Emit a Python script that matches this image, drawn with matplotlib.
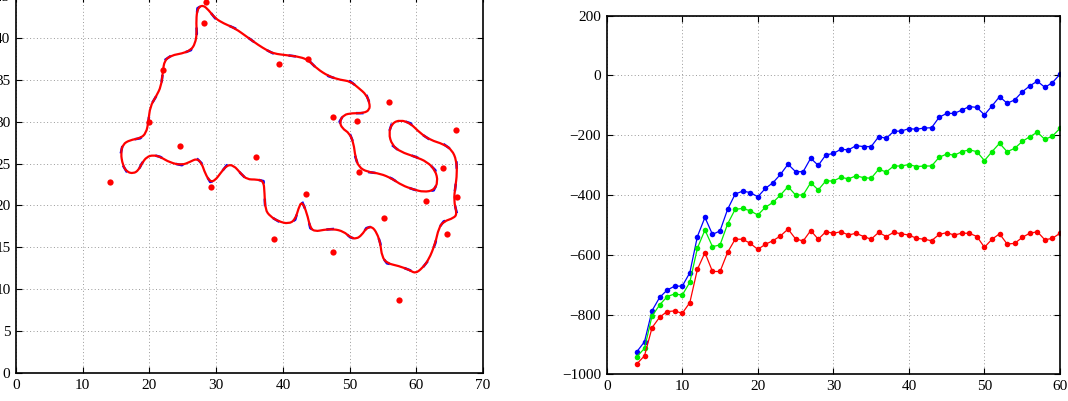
import numpy as np
import matplotlib
matplotlib.use("Agg")
import matplotlib.pyplot as plt
from matplotlib.path import Path
from matplotlib.patches import PathPatch

plt.rcParams['font.family'] = ['Liberation Serif', 'DejaVu Serif']
plt.rcParams['font.size'] = 11

# left panel: traced boundary (closed) and measured points
curve_x = [15.7, 16.0, 17.1, 18.6, 19.5, 19.85, 20.1, 21.0, 21.75, 22.0, 22.25, 23.35, 24.85, 26.2,
           26.85, 27.1, 27.0, 27.2, 28.0, 28.85, 29.85, 31.1, 32.85, 34.6, 36.35, 37.6, 38.6, 40.6,
           42.6, 43.85, 45.1, 46.85, 48.6, 50.1, 51.35, 52.5, 53.0, 53.0, 52.1, 50.35, 49.1, 48.5,
           48.85, 50.0, 50.6, 50.85, 51.35, 52.6, 54.6, 56.35, 57.85, 59.6, 61.1, 62.6, 63.25, 62.85,
           61.6, 59.85, 57.6, 56.35, 55.85, 56.35, 57.6, 59.1, 60.6, 62.1, 64.1, 65.35, 66.0, 66.1,
           65.85, 65.6, 66.1, 65.6, 64.1, 63.35, 62.85, 61.85, 60.85, 59.85, 59.0, 57.35, 55.6, 54.85,
           54.6, 54.1, 53.35, 52.5, 51.85, 51.0, 50.1, 49.1, 47.6, 46.1, 44.85, 44.1, 43.6, 42.85,
           42.35, 41.85, 40.85, 39.35, 38.1, 37.35, 37.25, 37.1, 36.1, 34.6, 33.7, 32.6, 31.6, 30.6,
           29.85, 29.1, 28.35, 27.85, 27.1, 26.1, 24.85, 23.1, 21.6, 20.6, 19.6, 18.85, 18.35, 17.6,
           16.6, 16.0]
curve_y = [26.2, 27.3, 27.8, 28.0, 28.6, 30.0, 31.8, 33.0, 34.2, 35.9, 37.3, 37.9, 38.1, 38.5,
           39.3, 40.5, 42.1, 43.5, 43.9, 43.3, 42.3, 41.7, 41.1, 40.1, 39.1, 38.5, 38.1, 37.9,
           37.7, 37.3, 36.3, 35.4, 34.96, 34.8, 34.0, 33.2, 32.2, 31.4, 31.0, 31.0, 30.8, 30.0,
           29.2, 28.6, 27.4, 25.8, 24.6, 24.0, 23.8, 23.2, 22.4, 21.9, 21.6, 21.8, 22.8, 24.2,
           25.2, 25.8, 26.4, 27.2, 28.6, 29.8, 30.2, 29.8, 28.6, 27.8, 27.3, 26.6, 25.4, 23.8,
           22.2, 20.6, 19.0, 18.5, 18.1, 17.3, 15.5, 13.5, 12.5, 11.9, 12.3, 12.8, 13.1, 13.9,
           15.5, 16.7, 17.5, 17.3, 16.5, 16.0, 16.2, 16.9, 17.2, 17.1, 16.9, 17.3, 19.1, 20.5,
           19.7, 18.3, 17.8, 18.1, 18.7, 19.5, 21.5, 22.9, 23.1, 23.1, 23.8, 24.8, 24.8, 23.8,
           23.0, 22.8, 23.8, 25.0, 25.6, 25.2, 24.8, 25.1, 25.8, 26.0, 25.8, 25.0, 24.2, 23.8,
           24.0, 24.8]
pts_x = [28.5, 28.2, 22.0, 39.35, 43.7, 55.85, 47.45, 51.1, 19.9, 65.95, 24.65, 35.9, 63.95,
         51.35, 14.05, 29.25, 43.45, 66.1, 61.5, 55.2, 64.6, 38.6, 47.45, 57.45]
pts_y = [44.3, 41.8, 36.1, 36.8, 37.5, 32.3, 30.6, 30.1, 29.95, 29.0, 27.1, 25.8, 24.5,
         24.0, 22.8, 22.2, 21.4, 21.05, 20.5, 18.55, 16.6, 16.05, 14.5, 8.7]

# right panel
steps = list(range(4, 61))
blue = [-924, -891, -787, -743, -718, -705, -705, -660, -539, -475, -532, -520, -448, -397, -387,
        -392, -406, -378, -359, -331, -297, -322, -322, -277, -301, -266, -261, -247, -249, -235,
        -238, -238, -205, -210, -187, -186, -178, -180, -176, -175, -140, -127, -127, -116, -104,
        -107, -132, -102, -71, -93, -82, -55, -35, -19, -40, -24, 4]
green = [-941, -913, -805, -768, -740, -731, -735, -692, -578, -517, -573, -567, -497, -448, -445,
         -453, -467, -441, -425, -400, -372, -400, -400, -359, -383, -353, -353, -341, -346, -336,
         -342, -344, -314, -323, -303, -303, -298, -305, -303, -303, -274, -263, -267, -255, -249,
         -255, -285, -255, -227, -255, -244, -221, -205, -190, -214, -203, -177]
red = [-965, -938, -844, -809, -790, -788, -796, -760, -649, -593, -656, -656, -592, -548, -548,
       -562, -582, -565, -553, -537, -514, -547, -554, -519, -548, -523, -528, -523, -534, -528,
       -539, -548, -525, -539, -525, -530, -534, -545, -548, -553, -532, -526, -534, -528, -528,
       -539, -575, -548, -530, -564, -562, -542, -528, -523, -550, -545, -528]


def style(ax):
    ax.grid(True, linestyle=(0, (1, 2.5)), color='#999999', linewidth=0.7)
    ax.tick_params(direction='in', top=True, right=True, length=4, width=0.8, pad=4)
    for s in ax.spines.values():
        s.set_linewidth(1.2)


fig = plt.figure(figsize=(10.68, 4.01), dpi=100)

ax1 = fig.add_axes([0.0150, 0.0691, 0.4373, 0.9417])
verts = list(zip(curve_x, curve_y))
n = len(verts)
mid = lambda a, b: ((a[0] + b[0]) / 2, (a[1] + b[1]) / 2)
pv = [mid(verts[-1], verts[0])]
codes = [Path.MOVETO]
for i in range(n):
    pv += [verts[i], mid(verts[i], verts[(i + 1) % n])]
    codes += [Path.CURVE3, Path.CURVE3]
ax1.plot(curve_x + curve_x[:1], curve_y + curve_y[:1], color='blue', linestyle='--',
         dashes=(3, 6), linewidth=1.8, zorder=2)
ax1.add_patch(PathPatch(Path(pv, codes), facecolor='none', edgecolor='red', linewidth=1.6, zorder=3))
ax1.plot(pts_x, pts_y, 'o', color='red', markersize=4.5, markeredgewidth=0, zorder=4)
ax1.set_xlim(0, 70)
ax1.set_ylim(0, 45)
ax1.set_xticks(range(0, 71, 10))
ax1.set_yticks(range(0, 46, 5))
style(ax1)

ax2 = fig.add_axes([0.5681, 0.0666, 0.4244, 0.8943])
ax2.plot(steps, blue, '-o', color='blue', linewidth=0.9, markersize=4, markeredgewidth=0)
ax2.plot(steps, green, '-o', color='#00ee00', linewidth=0.9, markersize=4, markeredgewidth=0)
ax2.plot(steps, red, '-o', color='red', linewidth=0.9, markersize=4, markeredgewidth=0)
ax2.set_xlim(0, 60)
ax2.set_ylim(-1000, 200)
ax2.set_xticks(range(0, 61, 10))
ax2.set_yticks(range(-1000, 201, 200))
style(ax2)

fig.savefig("out.png", dpi=100)
